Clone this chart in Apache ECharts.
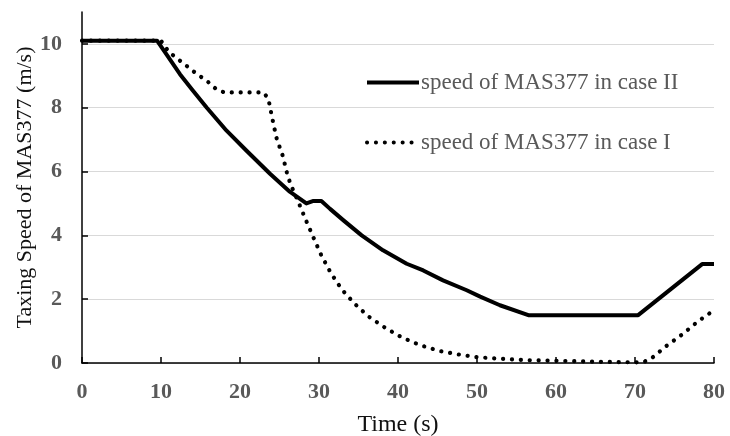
<!DOCTYPE html>
<html>
<head>
<meta charset="utf-8">
<script src="https://cdn.jsdelivr.net/npm/echarts@6/dist/echarts.min.js"></script>
<style>
  html, body { margin: 0; padding: 0; background: #fff; }
  #main { width: 730px; height: 436px; }
</style>
</head>
<body>
<div id="main"></div>
<script>
// case II (solid)
var caseIITime  = [0, 9.5, 10.5, 12.4, 14, 15.8, 18.3, 20.8, 23.8, 26.3, 28.4, 29.3, 30.3, 31.4, 33.1, 35.4, 38.1, 41.1, 43.2, 45.7, 48.7, 50.4, 52.9, 56.5, 70.4, 78.5, 80];
var caseIISpeed = [10.1, 10.1, 9.74, 9.05, 8.55, 8.0, 7.28, 6.66, 5.93, 5.37, 5.0, 5.08, 5.08, 4.83, 4.47, 4.0, 3.53, 3.11, 2.9, 2.59, 2.28, 2.08, 1.81, 1.5, 1.5, 3.1, 3.1];

// case I (dotted)
var caseITime  = [0, 10, 11, 12, 13, 14, 15, 16, 17, 18, 23, 23.6, 24.1, 24.6, 25, 25.4, 26, 26.4, 27.4, 28.3, 29.3, 30.3, 31.5, 32.9, 34.5, 36.2, 38.4, 40.5, 42.8, 45.2, 47.6, 50.1, 52.5, 56, 60, 65, 70, 71, 72.1, 74, 76, 78, 80];
var caseISpeed = [10.1, 10.1, 9.75, 9.55, 9.36, 9.16, 8.98, 8.8, 8.58, 8.48, 8.48, 8.27, 7.65, 7.07, 6.78, 6.5, 5.9, 5.6, 5.04, 4.5, 3.93, 3.37, 2.82, 2.3, 1.86, 1.47, 1.1, 0.8, 0.56, 0.38, 0.27, 0.18, 0.14, 0.09, 0.07, 0.04, 0.02, 0.02, 0.15, 0.54, 0.9, 1.31, 1.65];

var seriesNames = ['speed of MAS377 in case II', 'speed of MAS377 in case I'];

function pairs(xs, ys) {
    return xs.map(function (x, i) { return [x, ys[i]]; });
}

var serif = 'Liberation Serif';
var myChart = echarts.init(document.getElementById('main'));

var option = {
    animation: false,
    grid: { left: 82, right: 16, top: 12, bottom: 73, outerBoundsMode: 'none', containLabel: false },
    legend: {
        orient: 'vertical',
        left: 360,
        top: 66,
        itemGap: 37,
        itemWidth: 52,
        itemHeight: 14,
        itemStyle: { opacity: 0 },
        lineStyle: { width: 4 },
        textStyle: { fontFamily: serif, fontSize: 23, color: '#595959', padding: [0, 0, 0, -3] },
        data: seriesNames
    },
    xAxis: {
        type: 'value',
        min: 0, max: 80, interval: 10,
        name: 'Time (s)',
        nameLocation: 'middle',
        nameGap: 50,
        nameMoveOverlap: false,
        nameTextStyle: { fontFamily: serif, fontSize: 24, color: '#111' },
        axisLine: { lineStyle: { color: '#000', width: 1.5 } },
        axisTick: { inside: true, length: 6, lineStyle: { color: '#000', width: 1.5 } },
        axisLabel: { fontFamily: serif, fontSize: 22, fontWeight: 'bold', color: '#595959', margin: 18 },
        splitLine: { show: false }
    },
    yAxis: {
        type: 'value',
        min: 0, max: 11, interval: 2,
        name: 'Taxing Speed of MAS377 (m/s)',
        nameLocation: 'middle',
        nameGap: 46,
        nameMoveOverlap: false,
        nameTextStyle: { fontFamily: serif, fontSize: 22, color: '#111' },
        axisLine: { show: true, lineStyle: { color: '#000', width: 1.5 } },
        axisTick: { show: true, inside: true, length: 6, lineStyle: { color: '#000', width: 1.5 } },
        axisLabel: { fontFamily: serif, fontSize: 22, fontWeight: 'bold', color: '#595959', margin: 20, showMaxLabel: false },
        splitLine: { show: true, showMaxLine: false, lineStyle: { color: '#d9d9d9', width: 1.2 } }
    },
    series: [
        {
            name: seriesNames[0],
            type: 'line',
            symbol: 'none',
            data: pairs(caseIITime, caseIISpeed),
            lineStyle: { color: '#000', width: 4, join: 'round' },
            itemStyle: { color: '#000' },
            z: 3
        },
        {
            name: seriesNames[1],
            type: 'line',
            symbol: 'none',
            data: pairs(caseITime, caseISpeed),
            lineStyle: { color: '#000', width: 4.2, type: [0.1, 8.8], cap: 'round' },
            itemStyle: { color: '#000' },
            z: 2
        }
    ]
};

myChart.setOption(option);
window.onresize = myChart.resize;
</script>
</body>
</html>
